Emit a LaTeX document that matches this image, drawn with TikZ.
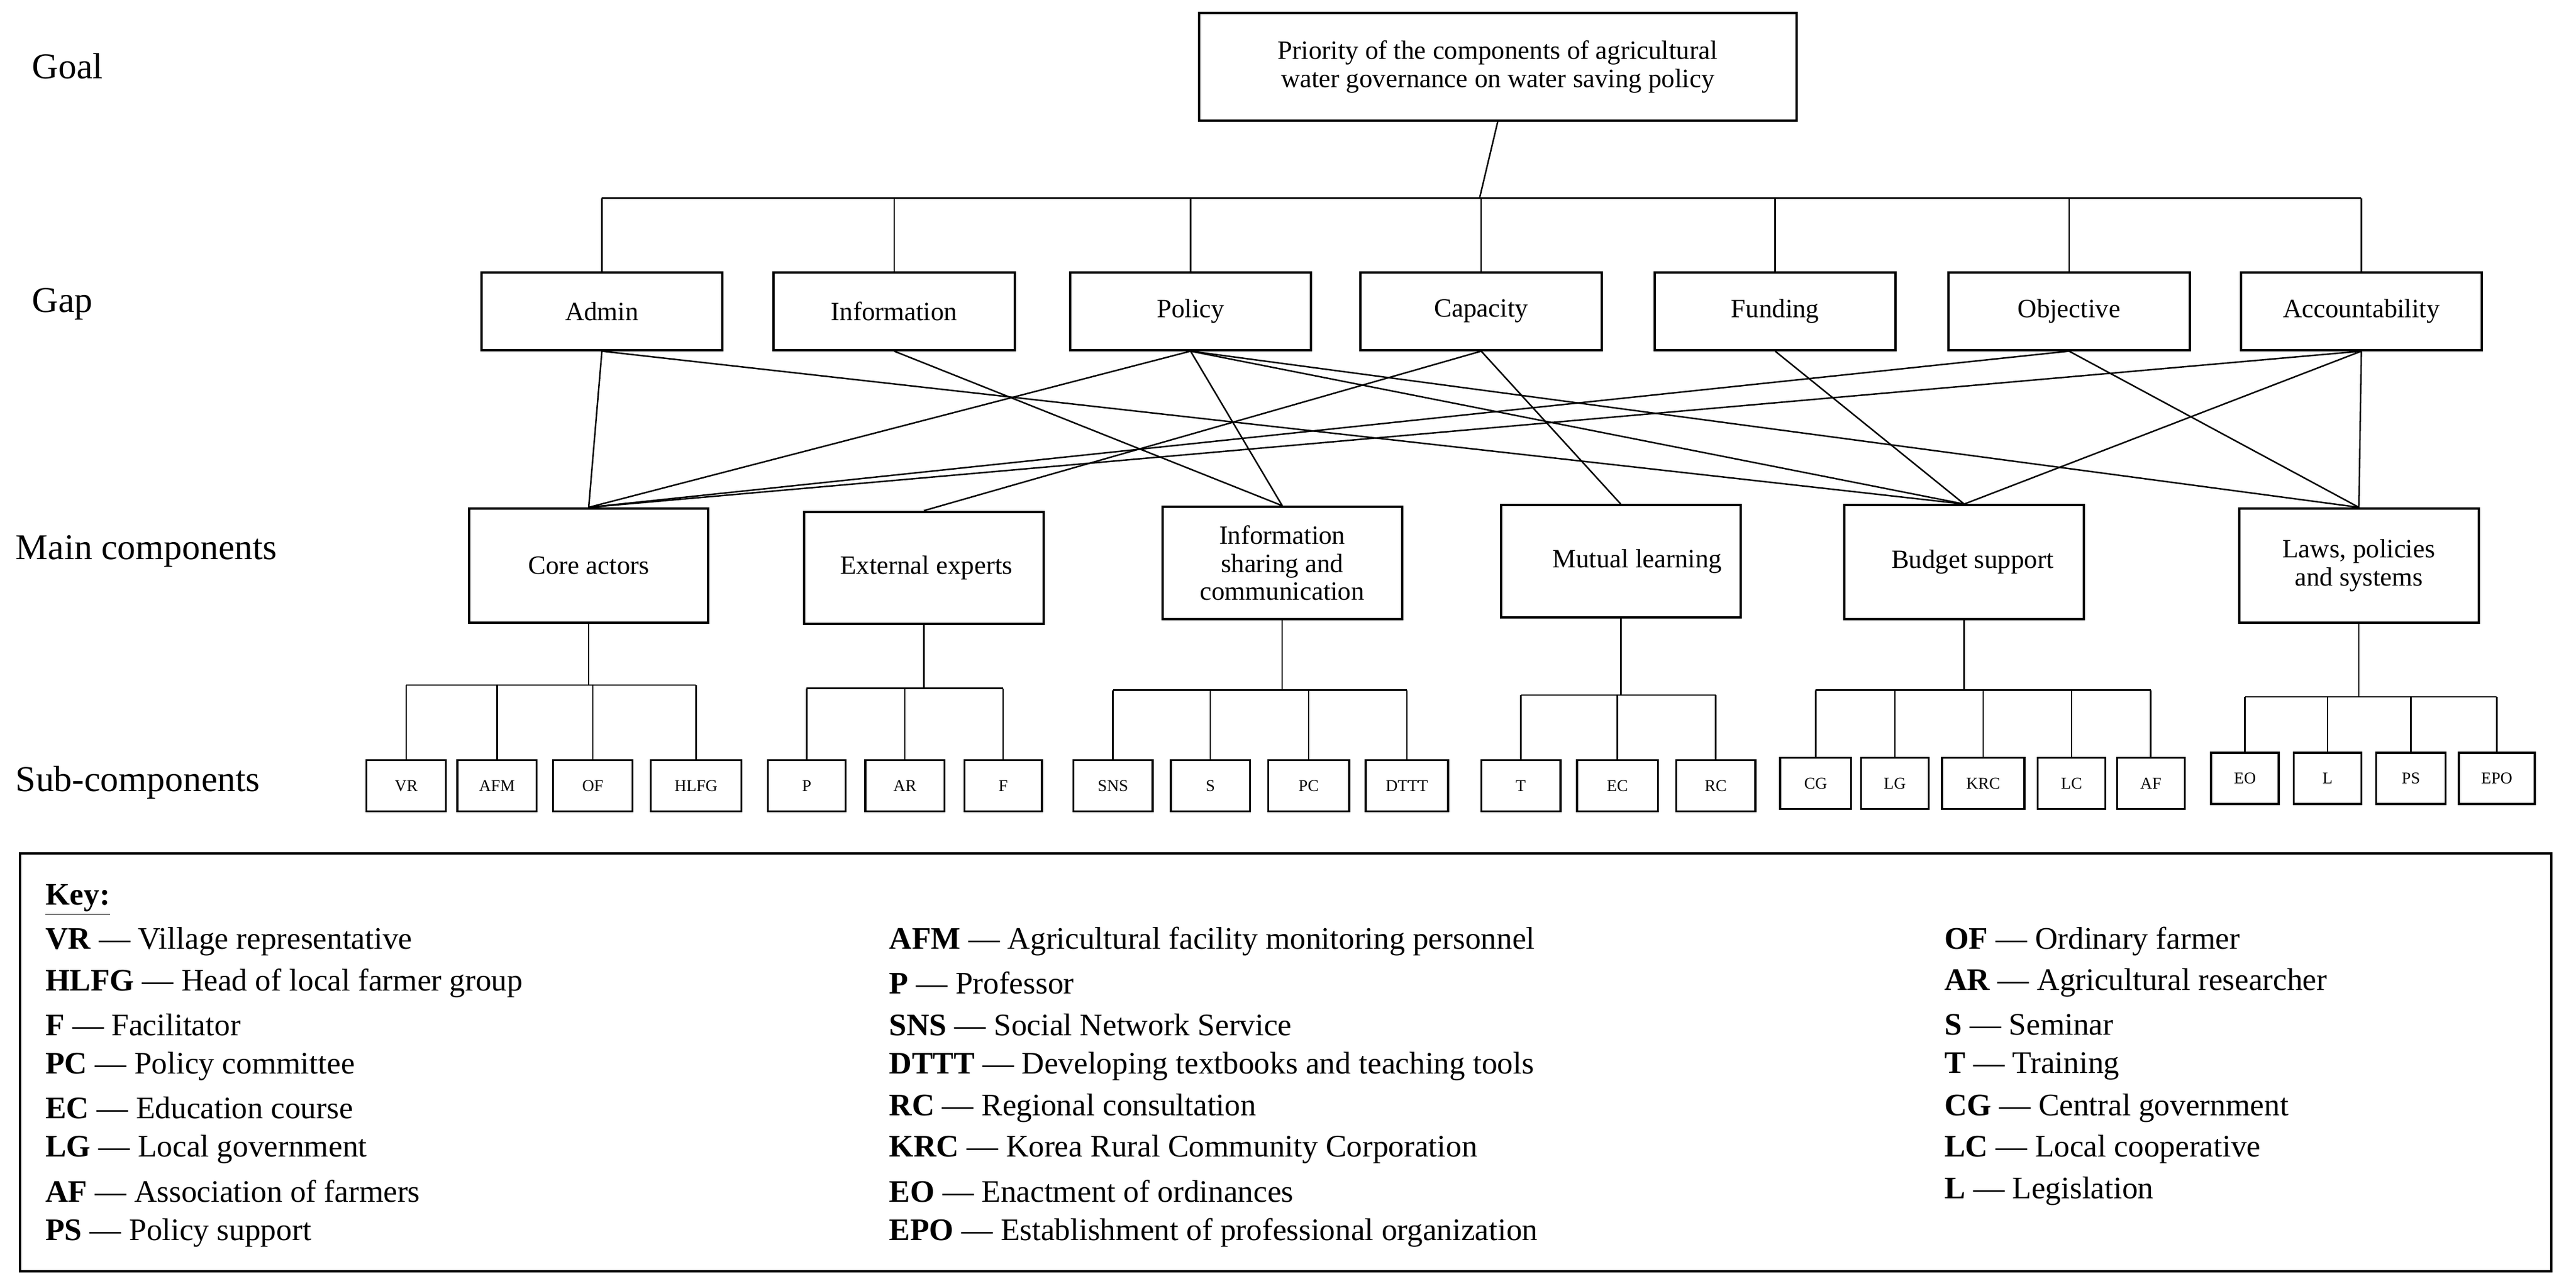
\documentclass[tikz,border=0pt]{standalone}
\usepackage{fontspec}
\setmainfont{Liberation Serif}
\begin{document}
\begin{tikzpicture}[x=1pt,y=-1pt,
 box/.style={draw,line width=1.4pt,inner sep=2pt,font=\fontsize{16}{17}\selectfont,align=center},
 sub/.style={draw,line width=1.2pt,minimum height=31pt,font=\fontsize{10}{11}\selectfont},
 lbl/.style={anchor=west,font=\fontsize{22}{24}\selectfont},
 ln/.style={line width=0.9pt},
 key/.style={anchor=west,font=\fontsize{19}{20}\selectfont}]
\useasboundingbox (0,0) rectangle (1560,778.6);
% goal
\node[box,minimum width=362pt,minimum height=65pt] (goal) at (907,40.5) {Priority of the components of agricultural\\water governance on water saving policy};
\node[lbl] (lg) at (16,40) {Goal};
\node[lbl] (lgap) at (16,184) {Gap};
\node[lbl] (lmain) at (6,334) {Main components};
\node[lbl] (lsub) at (6,474) {Sub-components};
% gap boxes
\foreach \n/\t/\x in {admin/Admin/364.5,info/Information/541.5,policy/Policy/721,cap/Capacity/897,fund/Funding/1075,obj/Objective/1253,acc/Accountability/1430}{
 \node[box,minimum width=146pt,minimum height=47pt] (\n) at (\x,188.5) {\t};
 \coordinate (\n t) at (\x,120);
 \draw[ln] (\n t) -- (\n.north);
}
\coordinate (gb) at (896,120);
\draw[ln] (goal.south) -- (gb);
\draw[ln] (admint) -- (acct);
% main boxes
\node[box,minimum width=145pt,minimum height=69pt] (core) at (356.5,342.5) {Core actors};
\node[box,minimum width=145pt,minimum height=68pt] (ext) at (559.5,344) {\hspace*{3pt}External experts};
\node[box,minimum width=145pt,minimum height=68pt] (isc) at (776.5,341) {Information\\sharing and\\communication};
\node[box,minimum width=145pt,minimum height=68pt] (mut) at (981.5,340) {\hspace*{20pt}Mutual learning};
\node[box,minimum width=145pt,minimum height=69pt] (bud) at (1189.5,340.5) {\hspace*{10pt}Budget support};
\node[box,minimum width=145pt,minimum height=69pt] (law) at (1428.5,342.5) {Laws, policies\\and systems};
% connections
\foreach \a/\b in {admin/core,admin/bud,info/isc,policy/core,policy/isc,policy/bud,policy/law,cap/ext,cap/mut,fund/bud,obj/core,obj/law,acc/core,acc/bud,acc/law}{
 \draw[ln] (\a.south) -- (\b.north);
}
% sub components
\newcommand{\subgroup}[5]{% parent, bar y, top y, list name/label/x/w
 \coordinate (#1bar) at (#1.south|-0,#2);
 \draw[ln] (#1.south) -- (#1bar);
 \foreach \n/\t/\x/\w [count=\i] in {#4}{
  \node[sub,minimum width=\w pt] (\n) at (\x,#3) {\t};
  \coordinate (\n b) at (\x,#2);
  \draw[ln] (\n b) -- (\n.north);
 }
 \draw[ln] (#5);
}
\subgroup{core}{415}{476}{vr/VR/246/48,afm/AFM/301/48,of/OF/359/48,hlfg/HLFG/421.5/55}{vrb) -- (hlfgb}
\subgroup{ext}{417}{476}{p/P/488.5/47,ar/AR/548/48,f/F/607.5/47}{pb) -- (fb}
\subgroup{isc}{418}{476}{sns/SNS/674/48,s/S/733/48,pc/PC/792.5/49,dttt/DTTT/852/50}{snsb) -- (dtttb}
\subgroup{mut}{421}{476}{t/T/921/48,ec/EC/979.5/49,rc/RC/1039/48}{tb) -- (rcb}
\subgroup{bud}{418}{474.5}{cg/CG/1099.5/43,lgv/LG/1147.5/41,krc/KRC/1201/50,lc/LC/1254.5/41,af/AF/1302.5/41}{cgb) -- (afb}
\subgroup{law}{422}{471.5}{eo/EO/1359.5/41,l/L/1409.5/41,ps/PS/1460/42,epo/EPO/1512/46}{eob) -- (epob}
% key
\node[draw,line width=1.4pt,minimum width=1533pt,minimum height=253pt] (keybox) at (778.5,643.5) {};
\node[key] (k0) at (24,545) {\textbf{\underline{Key:}}};
\foreach \t [count=\i] in {{\textbf{VR} --- Village representative},{\textbf{HLFG} --- Head of local farmer group},{\textbf{F} --- Facilitator},{\textbf{PC} --- Policy committee},{\textbf{EC} --- Education course},{\textbf{LG} --- Local government},{\textbf{AF} --- Association of farmers},{\textbf{PS} --- Policy support}}
 \node[key] (ka\i) at (24,545+25.2*\i) {\t};
\foreach \t [count=\i] in {{\textbf{AFM} --- Agricultural facility monitoring personnel},{\textbf{P} --- Professor},{\textbf{SNS} --- Social Network Service},{\textbf{DTTT} --- Developing textbooks and teaching tools},{\textbf{RC} --- Regional consultation},{\textbf{KRC} --- Korea Rural Community Corporation},{\textbf{EO} --- Enactment of ordinances},{\textbf{EPO} --- Establishment of professional organization}}
 \node[key] (kb\i) at (535,545+25.2*\i) {\t};
\foreach \t [count=\i] in {{\textbf{OF} --- Ordinary farmer},{\textbf{AR} --- Agricultural researcher},{\textbf{S} --- Seminar},{\textbf{T} --- Training},{\textbf{CG} --- Central government},{\textbf{LC} --- Local cooperative},{\textbf{L} --- Legislation}}
 \node[key] (kc\i) at (1174,545+25.2*\i) {\t};
\end{tikzpicture}
\end{document}
